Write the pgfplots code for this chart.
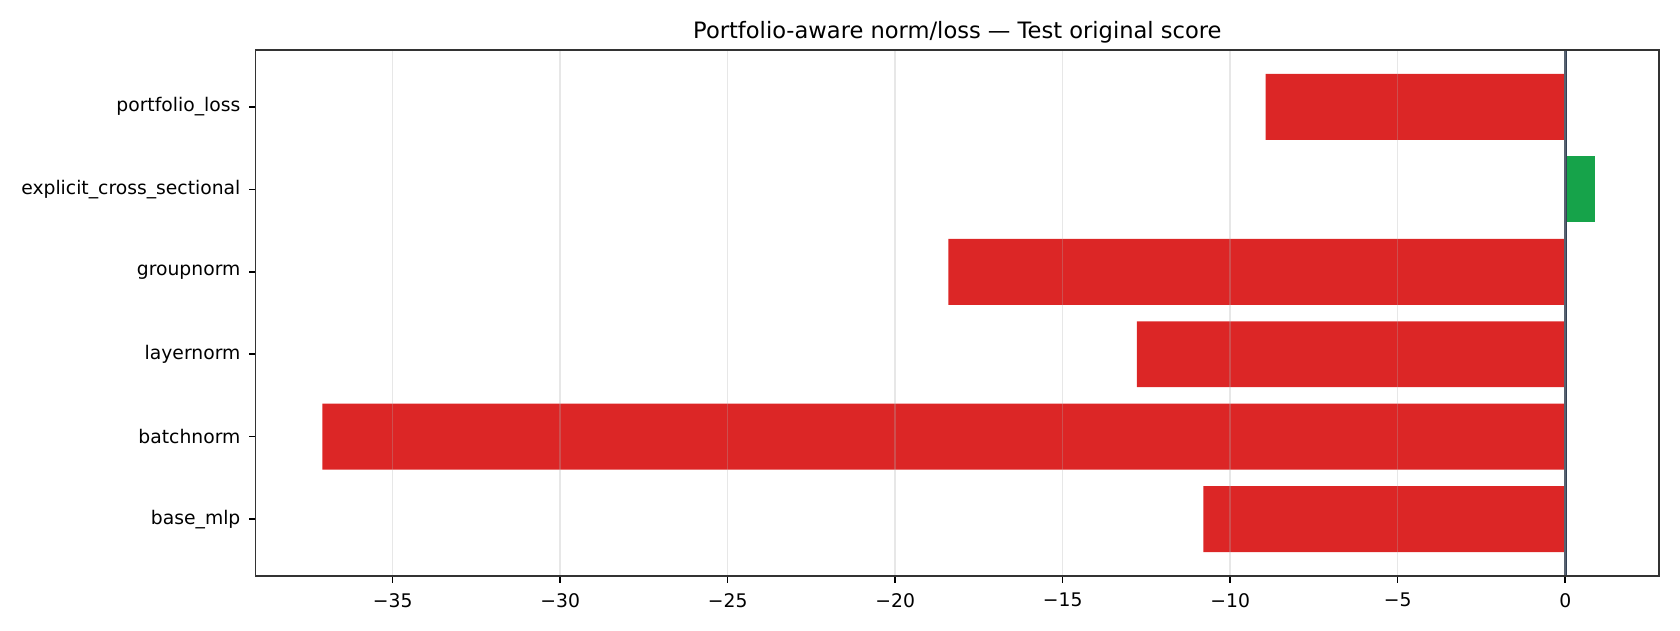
\documentclass[border=0pt]{standalone}
\usepackage{fontspec}
\setmainfont{DejaVu Sans}
\usepackage{pgfplots}
\pgfplotsset{compat=1.18}
\definecolor{barred}{RGB}{220,38,38}
\definecolor{bargreen}{RGB}{22,163,74}
\definecolor{spine}{RGB}{51,51,51}
\definecolor{zeroline}{RGB}{51,65,85}
\definecolor{gridc}{RGB}{176,176,176}
\begin{document}
\begin{tikzpicture}
\useasboundingbox (-147.3pt,-31.1pt) rectangle (820.4pt,331.8pt);
\begin{axis}[
  at={(0pt,0pt)}, anchor=south west,
  scale only axis, width=808.3pt, height=303pt,
  xbar, bar width=0.8, bar shift=0pt,
  xmin=-39.09, xmax=2.80,
  ymin=-0.69, ymax=5.69,
  xtick={-35,-30,-25,-20,-15,-10,-5,0},
  xticklabels={−35,−30,−25,−20,−15,−10,−5,0},
  ytick={0,1,2,3,4,5},
  yticklabels={base\_mlp,batchnorm,layernorm,groupnorm,explicit\_cross\_sectional,portfolio\_loss},
  xtick pos=bottom, ytick pos=left,
  tick align=outside,
  major tick length=3.8pt,
  tick style={black, line width=0.85pt},
  axis line style={draw=spine, line width=0.85pt},
  xmajorgrids, ymajorgrids=false,
  grid style={draw=gridc, draw opacity=0.3, line width=0.85pt},
  axis on top,
  ticklabel style={font=\fontsize{10.8}{13}\selectfont},
  xticklabel style={yshift=-2.5pt},
  yticklabel style={xshift=-1.5pt},
  title={Portfolio-aware norm/loss — Test original score},
  title style={at={(0.5,1)}, anchor=base, yshift=0.7pt, font=\fontsize{13}{15}\selectfont},
]
\addplot[fill=barred, draw=none] coordinates {
  (-10.80,0) (-37.10,1) (-12.79,2) (-18.41,3) (-8.94,5)
};
\addplot[fill=bargreen, draw=none] coordinates {
  (0.89,4)
};
\draw[zeroline, line width=1.5pt] (axis cs:0,-0.69) -- (axis cs:0,5.69);
\end{axis}
\end{tikzpicture}
\end{document}
